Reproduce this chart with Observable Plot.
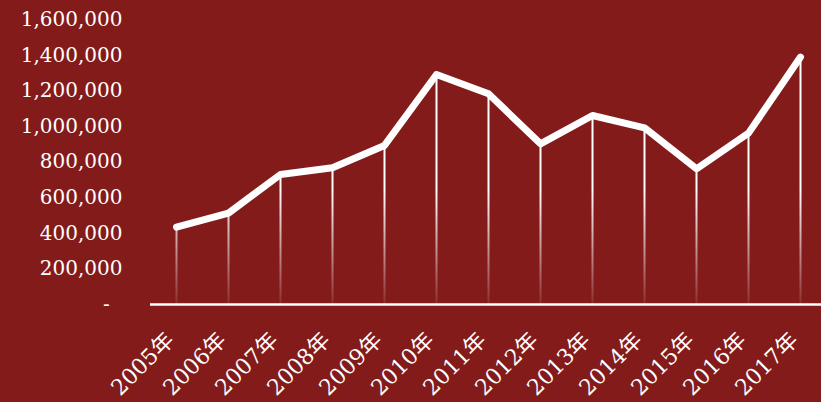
<!DOCTYPE html>
<html>
<head>
<meta charset="utf-8">
<script src="https://cdn.jsdelivr.net/npm/d3@7"></script>
<script src="https://cdn.jsdelivr.net/npm/@observablehq/plot@0.6"></script>
<style>
  html, body { margin: 0; padding: 0; background: #841b1b; }
  #chart svg { display: block; }
</style>
</head>
<body>
<div id="chart"></div>
<script>
const years = ["2005年","2006年","2007年","2008年","2009年","2010年","2011年","2012年","2013年","2014年","2015年","2016年","2017年"];
const values = [434000, 513000, 730000, 768000, 893000, 1291000, 1183000, 902000, 1061000, 992000, 762000, 962000, 1389000];
const yTicks = [0, 200000, 400000, 600000, 800000, 1000000, 1200000, 1400000, 1600000];

const data = years.map((year, i) => ({year, value: values[i]}));
const fmt = d3.format(",");

const chart = Plot.plot({
  width: 821,
  height: 402,
  marginLeft: 150,
  marginRight: 0,
  marginTop: 19,
  marginBottom: 98,
  style: {background: "#841b1b", color: "#ffffff", fontFamily: "'DejaVu Serif', 'Noto Sans CJK SC', serif", fontSize: "20px"},
  x: {type: "point", domain: years, range: [176, 800], padding: 0, label: null},
  y: {domain: [0, 1600000], label: null},
  marks: [
    Plot.axisY({ticks: yTicks, tickSize: 0, tickPadding: 28, tickFormat: d => d === 0 ? "-\u00a0\u00a0" : fmt(d), fill: "#ffffff", fontSize: 20, label: null, style: "letter-spacing: 1px"}),
    Plot.axisX({tickSize: 0, tickPadding: 12, tickRotate: -45, fill: "#ffffff", fontSize: 22, label: null, dx: -6, dy: 20, style: "letter-spacing: 1px"}),
    Plot.ruleX(data, {x: "year", y1: 0, y2: "value", stroke: "url(#fadeWhite)", strokeWidth: 2}),
    Plot.ruleY([0], {stroke: "#ffffff", strokeWidth: 2.5}),
    Plot.lineY(data, {x: "year", y: "value", stroke: "#ffffff", strokeWidth: 7, strokeLinecap: "round", strokeLinejoin: "round", style: "filter: drop-shadow(2px 3px 2px rgba(60,0,0,0.45))"})
  ]
});

const ns = "http://www.w3.org/2000/svg";
const defs = document.createElementNS(ns, "defs");
const grad = document.createElementNS(ns, "linearGradient");
grad.setAttribute("id", "fadeWhite");
grad.setAttribute("gradientUnits", "userSpaceOnUse");
grad.setAttribute("x1", "0"); grad.setAttribute("x2", "0");
grad.setAttribute("y1", "190"); grad.setAttribute("y2", "304");
[[0, 1], [1, 0.08]].forEach(([o, op]) => {
  const s = document.createElementNS(ns, "stop");
  s.setAttribute("offset", o);
  s.setAttribute("stop-color", "#ffffff");
  s.setAttribute("stop-opacity", op);
  grad.appendChild(s);
});
defs.appendChild(grad);
chart.insertBefore(defs, chart.firstChild);
document.getElementById("chart").appendChild(chart);
</script>
</body>
</html>
